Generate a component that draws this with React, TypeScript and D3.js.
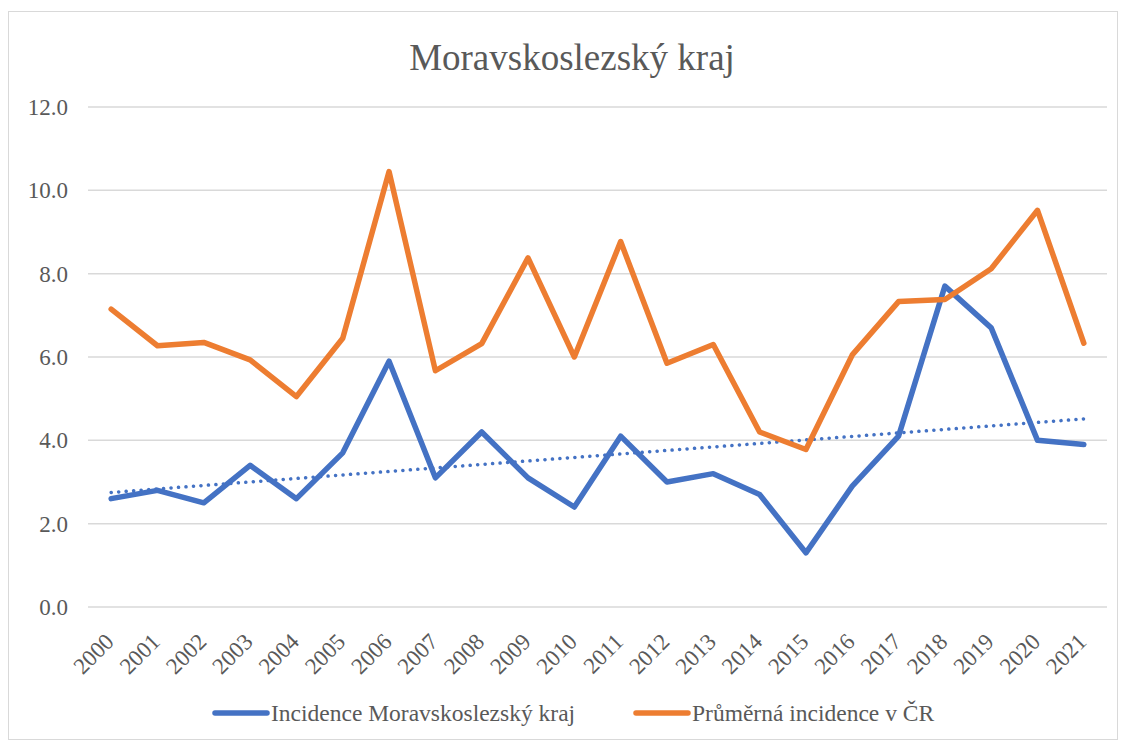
import { useEffect, useRef } from "react";
import * as d3 from "d3";

const years = ["2000", "2001", "2002", "2003", "2004", "2005", "2006", "2007", "2008", "2009", "2010",
  "2011", "2012", "2013", "2014", "2015", "2016", "2017", "2018", "2019", "2020", "2021"];
const msk = [2.6, 2.8, 2.5, 3.4, 2.6, 3.7, 5.9, 3.1, 4.2, 3.1, 2.4, 4.1, 3.0, 3.2, 2.7, 1.3, 2.9, 4.1, 7.7, 6.7, 4.0, 3.9];
const cr = [7.15, 6.27, 6.35, 5.93, 5.05, 6.45, 10.45, 5.67, 6.32, 8.38, 6.0, 8.77, 5.85, 6.3, 4.2, 3.78, 6.05, 7.33, 7.38, 8.12, 9.52, 6.33];
const yTicks = [0, 2, 4, 6, 8, 10, 12];
const seriesNames = ["Incidence Moravskoslezský kraj", "Průměrná incidence v ČR"];

const W = 1125;
const H = 742;
const FONT = "'Liberation Serif', 'Times New Roman', serif";

export default function App() {
  const ref = useRef<SVGSVGElement>(null);

  useEffect(() => {
    const svg = d3.select(ref.current);
    svg.selectAll("*").remove();

    const left = 88, right = 1107, top = 107, bottom = 607;
    const x = d3.scaleBand().domain(years).range([left, right]);
    const y = d3.scaleLinear().domain([0, 12]).range([bottom, top]);
    const cx = (yr: string) => (x(yr) as number) + x.bandwidth() / 2;

    // chart border
    svg.append("rect")
      .attr("x", 8.5).attr("y", 11.5).attr("width", 1109).attr("height", 728)
      .attr("fill", "white").attr("stroke", "#d9d9d9");

    svg.append("text")
      .attr("x", 572).attr("y", 70)
      .attr("text-anchor", "middle")
      .style("font-family", FONT).style("font-size", "37px").attr("fill", "#595959")
      .text("Moravskoslezský kraj");

    // grid + y labels
    const g = svg.append("g");
    g.selectAll("line.grid").data(yTicks).join("line")
      .attr("class", "grid")
      .attr("x1", left).attr("x2", right)
      .attr("y1", d => y(d)).attr("y2", d => y(d))
      .attr("stroke", "#d9d9d9").attr("stroke-width", 1.5);
    g.selectAll("text.ylab").data(yTicks).join("text")
      .attr("class", "ylab")
      .attr("x", 68).attr("y", d => y(d) + 8)
      .attr("text-anchor", "end")
      .style("font-family", FONT).style("font-size", "23px").attr("fill", "#595959")
      .text(d => d.toFixed(1));

    // x labels rotated
    g.selectAll("text.xlab").data(years).join("text")
      .attr("class", "xlab")
      .attr("transform", d => `translate(${cx(d) + 4},${bottom + 36}) rotate(-45)`)
      .attr("text-anchor", "end")
      .style("font-family", FONT).style("font-size", "23px").attr("fill", "#595959")
      .text(d => d);

    // linear trend of MSK series
    const n = msk.length;
    const idx = d3.range(n);
    const mx = d3.mean(idx) as number;
    const my = d3.mean(msk) as number;
    const slope = d3.sum(idx, i => (i - mx) * (msk[i] - my)) / d3.sum(idx, i => (i - mx) ** 2);
    const icpt = my - slope * mx;
    g.append("line")
      .attr("x1", cx(years[0])).attr("x2", cx(years[n - 1]))
      .attr("y1", y(icpt)).attr("y2", y(icpt + slope * (n - 1)))
      .attr("stroke", "#4472c4").attr("stroke-width", 3.5)
      .attr("stroke-linecap", "round").attr("stroke-dasharray", "0.1 7.4");

    const line = d3.line<number>().x((_, i) => cx(years[i])).y(d => y(d));
    const series = [
      { vals: msk, color: "#4472c4" },
      { vals: cr, color: "#ed7d31" },
    ];
    series.forEach(s => {
      g.append("path")
        .attr("d", line(s.vals))
        .attr("fill", "none").attr("stroke", s.color).attr("stroke-width", 5.5)
        .attr("stroke-linejoin", "round").attr("stroke-linecap", "round");
    });

    // legend
    const legendX = [213, 634];
    const lg = svg.append("g");
    series.forEach((s, i) => {
      lg.append("line")
        .attr("x1", legendX[i] + 2).attr("x2", legendX[i] + 54)
        .attr("y1", 713).attr("y2", 713)
        .attr("stroke", s.color).attr("stroke-width", 5.5).attr("stroke-linecap", "round");
      lg.append("text")
        .attr("x", legendX[i] + 58).attr("y", 721)
        .style("font-family", FONT).style("font-size", "23.5px").attr("fill", "#595959")
        .text(seriesNames[i]);
    });
  }, []);

  return (
    <svg ref={ref} width={W} height={H}
      style={{ position: "absolute", left: 0, top: 0, background: "white" }} />
  );
}
